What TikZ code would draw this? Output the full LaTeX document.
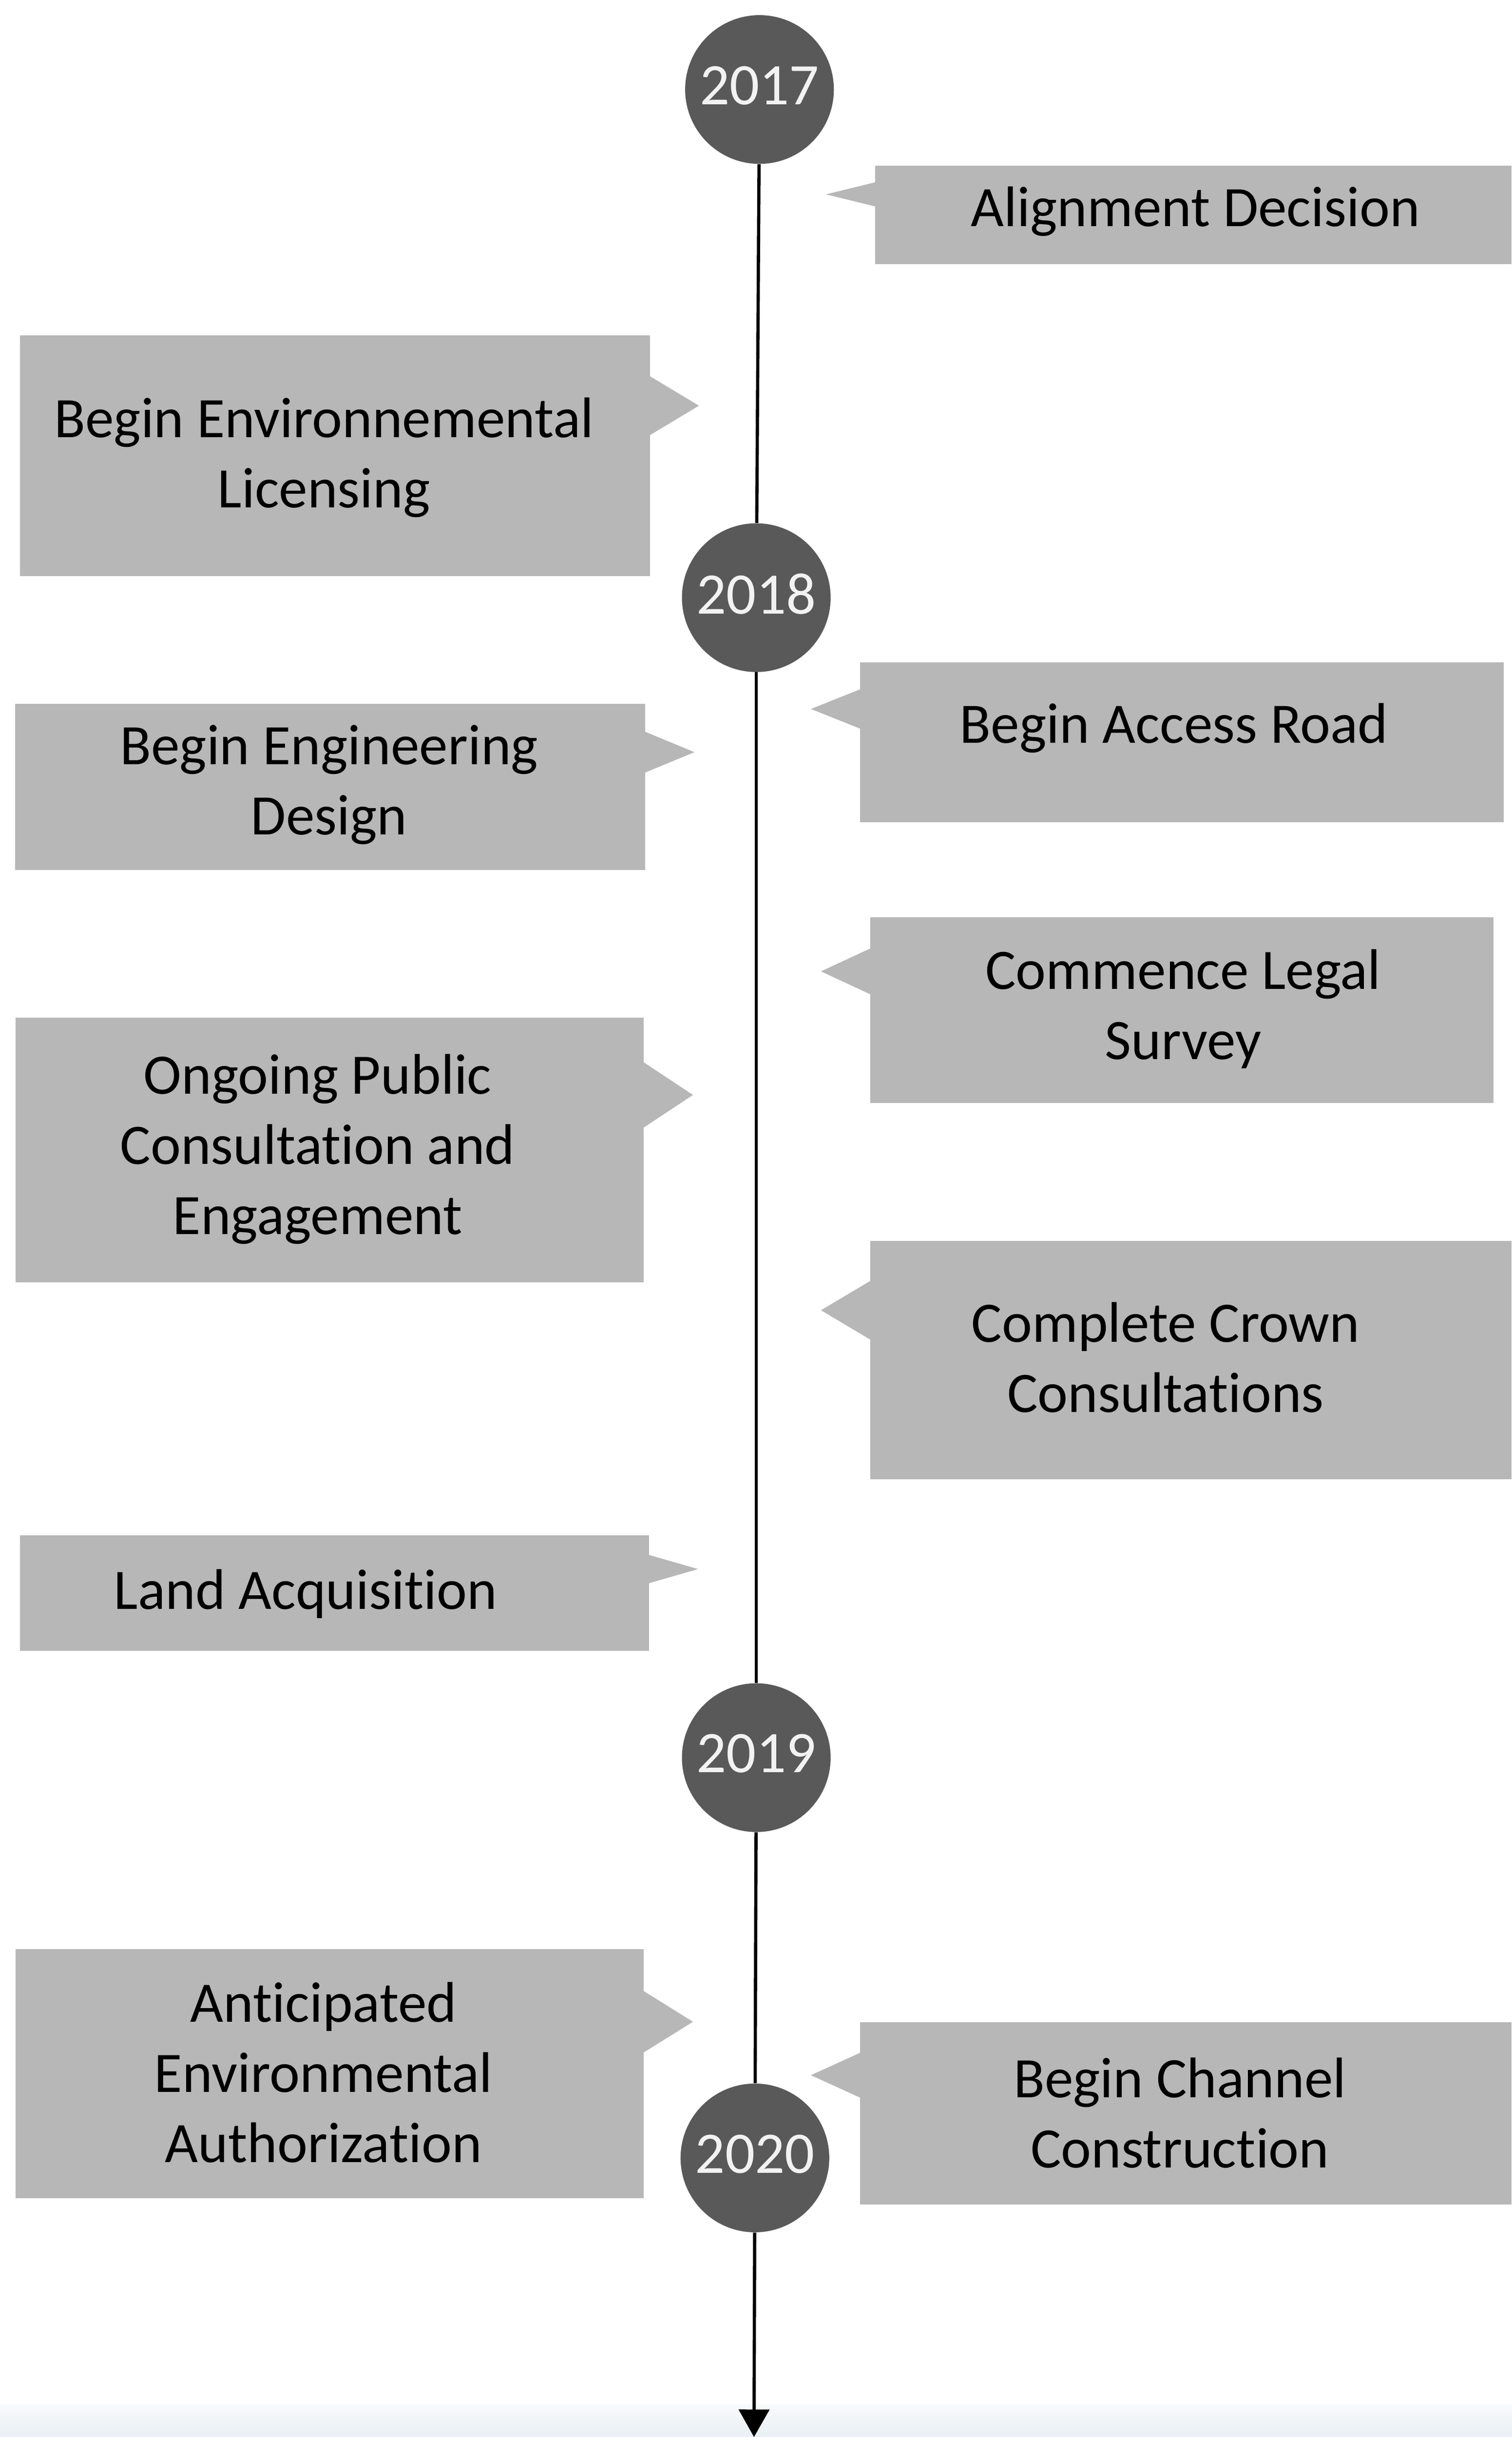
\documentclass[tikz,border=0pt]{standalone}
\usepackage{fontspec}
\setmainfont{Carlito}[Ligatures={NoCommon}]
\usetikzlibrary{arrows.meta,calc}
\definecolor{boxgray}{RGB}{183,183,183}
\definecolor{circgray}{RGB}{89,89,89}
\definecolor{yeartext}{RGB}{242,242,242}
\definecolor{bandtop}{RGB}{249,250,251}
\definecolor{bandbot}{RGB}{233,239,244}
\newcommand\wedgeR[1]{\fill[boxgray] ($(#1.north east)!1/6!(#1.south east)+(-0.02,0)$) -- ($(#1.north east)!7/24!(#1.south east)+(1.07,0)$) -- ($(#1.north east)!5/12!(#1.south east)+(-0.02,0)$) -- cycle;}
\newcommand\wedgeL[1]{\fill[boxgray] ($(#1.north west)!1/6!(#1.south west)+(0.02,0)$) -- ($(#1.north west)!7/24!(#1.south west)+(-1.07,0)$) -- ($(#1.north west)!5/12!(#1.south west)+(0.02,0)$) -- cycle;}
\begin{document}
\begin{tikzpicture}[
  box/.style={fill=boxgray, draw=none, inner sep=0pt, outer sep=0pt, anchor=north west},
  year/.style={circle, fill=circgray, minimum size=3.24cm, inner sep=0pt, text=yeartext, font=\fontsize{36.5pt}{44pt}\selectfont},
  lbl/.style={anchor=base, align=center, inner sep=0pt, font=\fontsize{35.5pt}{43.5pt}\selectfont, text=black},
  tl/.style={line width=0.07cm, draw=black},
]
\useasboundingbox (0,0) rectangle (32.94,-53.09);
\fill[white] (0,0) rectangle (32.94,-53.09);
\shade[top color=bandtop, bottom color=bandbot] (0,-52.38) rectangle (32.94,-53.09);

% boxes
\node[box, minimum width=13.87cm, minimum height=2.14cm] (align) at (19.07,-3.61) {};
\node[box, minimum width=13.72cm, minimum height=5.24cm] (lic) at (0.44,-7.31) {};
\node[box, minimum width=14.03cm, minimum height=3.48cm] (access) at (18.74,-14.43) {};
\node[box, minimum width=13.73cm, minimum height=3.62cm] (eng) at (0.33,-15.33) {};
\node[box, minimum width=13.58cm, minimum height=4.05cm] (comm) at (18.96,-19.98) {};
\node[box, minimum width=13.69cm, minimum height=5.77cm] (ong) at (0.34,-22.17) {};
\node[box, minimum width=13.98cm, minimum height=5.19cm] (crown) at (18.96,-27.03) {};
\node[box, minimum width=13.70cm, minimum height=2.51cm] (land) at (0.44,-33.45) {};
\node[box, minimum width=13.69cm, minimum height=5.43cm] (anti) at (0.34,-42.46) {};
\node[box, minimum width=14.20cm, minimum height=3.97cm] (chan) at (18.74,-44.05) {};

\wedgeL{align}
\wedgeR{lic}
\wedgeL{access}
\wedgeR{eng}
\wedgeL{comm}
\wedgeR{ong}
\wedgeL{crown}
\wedgeR{land}
\wedgeR{anti}
\wedgeL{chan}

% texts (anchor = baseline of the last line)
\node[lbl] (t-align) at (26.05,-4.93) {Alignment Decision};
\node[lbl] (t-lic) at (7.06,-11.06) {Begin Environnemental\\Licensing};
\node[lbl] (t-access) at (25.58,-16.19) {Begin Access Road};
\node[lbl] (t-eng) at (7.17,-18.18) {Begin Engineering\\Design};
\node[lbl] (t-comm) at (25.78,-23.08) {Commence Legal\\Survey};
\node[lbl] (t-ong) at (6.92,-26.89) {Ongoing Public\\Consultation and\\Engagement};
\node[lbl] (t-crown) at (25.40,-30.76) {Complete Crown\\Consultations};
\node[lbl] (t-land) at (6.66,-35.06) {Land Acquisition};
\node[lbl] (t-anti) at (7.05,-47.11) {Anticipated\\Environmental\\Authorization};
\node[lbl] (t-chan) at (25.71,-47.22) {Begin Channel\\Construction};

% timeline
\node[year] (y17) at (16.55,-1.95) {\raisebox{0.18cm}{2017}};
\node[year] (y18) at (16.48,-13.02) {\raisebox{0.18cm}{2018}};
\node[year] (y19) at (16.48,-38.29) {\raisebox{0.18cm}{2019}};
\node[year] (y20) at (16.45,-47.01) {\raisebox{0.18cm}{2020}};
\coordinate (tlend) at (16.43,-53.09);
\draw[tl] (y17) -- (y18);
\draw[tl] (y18) -- (y19);
\draw[tl] (y19) -- (y20);
\draw[tl, -{Triangle[length=0.6cm,width=0.66cm]}] (y20) -- (tlend);
\end{tikzpicture}
\end{document}
